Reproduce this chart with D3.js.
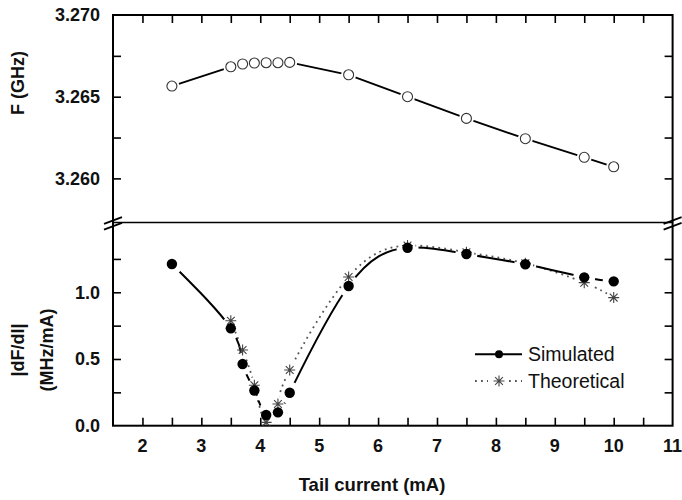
<!DOCTYPE html>
<html>
<head>
<meta charset="utf-8">
<script src="https://cdn.jsdelivr.net/npm/d3@7"></script>
<style>
  html, body { margin: 0; padding: 0; background: #fff; }
  svg { display: block; font-family: Arial, "Liberation Sans", sans-serif; }
</style>
</head>
<body>
<svg id="chart" width="682" height="500"></svg>
<script>
// ---- data ----
const currents = [2.5, 3.5, 3.7, 3.9, 4.1, 4.3, 4.5, 5.5, 6.5, 7.5, 8.5, 9.5, 10];
const freqGHz = [3.26565, 3.26683, 3.26700, 3.26706, 3.26708, 3.26708, 3.26710, 3.26634, 3.26500, 3.26367, 3.26243, 3.26129, 3.26071];
const simulated = [1.212, 0.730, 0.462, 0.264, 0.080, 0.100, 0.247, 1.047, 1.334, 1.287, 1.210, 1.112, 1.082];
const theoCurrents = [3.5, 3.7, 3.9, 4.1, 4.3, 4.5, 5.5, 6.5, 7.5, 8.5, 9.5, 10];
const theoretical = [0.787, 0.567, 0.303, 0.025, 0.163, 0.418, 1.115, 1.350, 1.300, 1.217, 1.072, 0.960];
const xTickLabels = [2, 3, 4, 5, 6, 7, 8, 9, 10, 11];
const xMinorTicks = [2, 2.5, 3, 3.5, 4, 4.5, 5, 5.5, 6, 6.5, 7, 7.5, 8, 8.5, 9, 9.5, 10, 10.5];
const fTickLabels = [3.260, 3.265, 3.270];
const fTicks = [3.260, 3.2625, 3.265, 3.2675];
const dTickLabels = [0.0, 0.5, 1.0];
const dTicks = [0.25, 0.5, 0.75, 1.0, 1.25];
const legendLabels = ["Simulated", "Theoretical"];

// ---- layout ----
const L = 113, R = 672.6, T = 15, B = 425.7, MID = 222.5;
const svg = d3.select("#chart");

const x = d3.scaleLinear().domain([1.5, 11]).range([L, R]);
const yTop = d3.scaleLinear().domain([3.2573, 3.270]).range([MID, T]);
const yBot = d3.scaleLinear().domain([0, 1.523]).range([B, MID]);

const tickFont = "bold 18px Arial, 'Liberation Sans', sans-serif";

// clip paths
const defs = svg.append("defs");
defs.append("clipPath").attr("id", "clipTop").append("rect")
  .attr("x", L).attr("y", T).attr("width", R - L).attr("height", MID - T);
defs.append("clipPath").attr("id", "clipBot").append("rect")
  .attr("x", L).attr("y", MID).attr("width", R - L).attr("height", B - MID);

function makeMask(id, pts, r) {
  const m = defs.append("mask").attr("id", id).attr("maskUnits", "userSpaceOnUse")
    .attr("x", 0).attr("y", 0).attr("width", 682).attr("height", 500);
  m.append("rect").attr("x", 0).attr("y", 0).attr("width", 682).attr("height", 500).attr("fill", "#fff");
  m.selectAll("circle").data(pts).join("circle")
    .attr("cx", d => d[0]).attr("cy", d => d[1]).attr("r", r).attr("fill", "#000");
}

// ---- axes (inward ticks) ----
const axTop = svg.append("g").attr("transform", `translate(0,${T})`)
  .call(d3.axisTop(x).tickValues(xMinorTicks).tickSize(-8).tickFormat(""));
const axBot = svg.append("g").attr("transform", `translate(0,${B})`)
  .call(d3.axisBottom(x).tickValues(xMinorTicks).tickSize(-8).tickFormat(""));
const axLT = svg.append("g").attr("transform", `translate(${L},0)`)
  .call(d3.axisLeft(yTop).tickValues(fTicks).tickSize(-8).tickFormat(""));
const axRT = svg.append("g").attr("transform", `translate(${R},0)`)
  .call(d3.axisRight(yTop).tickValues(fTicks).tickSize(-8).tickFormat(""));
const axLB = svg.append("g").attr("transform", `translate(${L},0)`)
  .call(d3.axisLeft(yBot).tickValues(dTicks).tickSize(-8).tickFormat(""));
const axRB = svg.append("g").attr("transform", `translate(${R},0)`)
  .call(d3.axisRight(yBot).tickValues(dTicks).tickSize(-8).tickFormat(""));
[axTop, axBot, axLT, axRT, axLB, axRB].forEach(g => {
  g.select(".domain").remove();
  g.selectAll(".tick line").attr("stroke", "#000").attr("stroke-width", 1.6);
});

// tick labels
svg.append("g").selectAll("text").data(xTickLabels).join("text")
  .attr("x", d => x(d)).attr("y", 452)
  .attr("text-anchor", "middle").style("font", tickFont).attr("fill", "#111")
  .text(d => d);
svg.append("g").selectAll("text").data(fTickLabels).join("text")
  .attr("x", 100).attr("y", d => yTop(d)).attr("dy", "0.36em")
  .attr("text-anchor", "end").style("font", tickFont).attr("fill", "#111")
  .text(d => d3.format(".3f")(d));
svg.append("g").selectAll("text").data(dTickLabels).join("text")
  .attr("x", 100).attr("y", d => yBot(d)).attr("dy", "0.36em")
  .attr("text-anchor", "end").style("font", tickFont).attr("fill", "#111")
  .text(d => d3.format(".1f")(d));

// frame
const frame = svg.append("g").attr("stroke", "#000").attr("fill", "none");
frame.append("rect").attr("x", L).attr("y", T).attr("width", R - L).attr("height", B - T).attr("stroke-width", 2);
frame.append("line").attr("x1", L).attr("x2", R).attr("y1", MID).attr("y2", MID).attr("stroke-width", 1.4);
// break marks
[L, R].forEach(cx => {
  [-2, 3.8].forEach(off => {
    svg.append("line")
      .attr("x1", cx - 9).attr("y1", MID + off + 3.4)
      .attr("x2", cx + 9).attr("y2", MID + off - 3.4)
      .attr("stroke", "#000").attr("stroke-width", 1.8);
  });
});

// ---- top panel ----
const topPts = currents.map((c, i) => [x(c), yTop(freqGHz[i])]);
makeMask("maskTop", topPts, 7.5);
svg.append("path")
  .attr("clip-path", "url(#clipTop)")
  .attr("mask", "url(#maskTop)")
  .attr("d", d3.line()(topPts))
  .attr("fill", "none").attr("stroke", "#000").attr("stroke-width", 1.9);
svg.append("g").selectAll("circle").data(topPts).join("circle")
  .attr("cx", d => d[0]).attr("cy", d => d[1]).attr("r", 5)
  .attr("fill", "#fff").attr("stroke", "#333").attr("stroke-width", 1.1);

// ---- bottom panel ----
const simPts = currents.map((c, i) => [x(c), yBot(simulated[i])]);
const theoPts = theoCurrents.map((c, i) => [x(c), yBot(theoretical[i])]);
makeMask("maskSim", simPts, 11);
makeMask("maskTheo", theoPts, 8);

const curve = d3.line().curve(d3.curveNatural);
const gClip = svg.append("g").attr("clip-path", "url(#clipBot)");
gClip.append("path")
  .attr("mask", "url(#maskTheo)")
  .attr("d", curve(theoPts))
  .attr("fill", "none").attr("stroke", "#555").attr("stroke-width", 1.8)
  .attr("stroke-dasharray", "1.8,4.2");
gClip.append("path")
  .attr("mask", "url(#maskSim)")
  .attr("d", curve(simPts))
  .attr("fill", "none").attr("stroke", "#000").attr("stroke-width", 2);

function star(g, cx, cy, s) {
  const a = s * Math.SQRT1_2;
  g.append("path")
    .attr("d", `M${cx - s},${cy}L${cx + s},${cy}M${cx},${cy - s}L${cx},${cy + s}` +
               `M${cx - a},${cy - a}L${cx + a},${cy + a}M${cx - a},${cy + a}L${cx + a},${cy - a}`)
    .attr("stroke", "#444").attr("stroke-width", 1.1).attr("fill", "none");
}
const gStars = svg.append("g").attr("clip-path", "url(#clipBot)");
theoPts.forEach(p => star(gStars, p[0], p[1], 5.5));
svg.append("g").attr("clip-path", "url(#clipBot)").selectAll("circle").data(simPts).join("circle")
  .attr("cx", d => d[0]).attr("cy", d => d[1]).attr("r", 5.2).attr("fill", "#000");

// ---- legend ----
const lg = svg.append("g");
const ly1 = 354.3, ly2 = 381;
lg.append("line").attr("x1", 475).attr("x2", 522).attr("y1", ly1).attr("y2", ly1)
  .attr("stroke", "#000").attr("stroke-width", 2);
lg.append("circle").attr("cx", 499).attr("cy", ly1).attr("r", 4).attr("fill", "#000");
lg.append("line").attr("x1", 475).attr("x2", 488).attr("y1", ly2).attr("y2", ly2)
  .attr("stroke", "#555").attr("stroke-width", 1.8).attr("stroke-dasharray", "1.8,4.2");
lg.append("line").attr("x1", 509).attr("x2", 522).attr("y1", ly2).attr("y2", ly2)
  .attr("stroke", "#555").attr("stroke-width", 1.8).attr("stroke-dasharray", "1.8,4.2");
star(lg, 499, ly2, 5.5);
lg.selectAll("text").data(legendLabels).join("text")
  .attr("x", 528).attr("y", (d, i) => i === 0 ? ly1 : ly2).attr("dy", "0.36em")
  .style("font", "19.5px Arial, 'Liberation Sans', sans-serif").attr("fill", "#111")
  .text(d => d);

// ---- axis titles ----
svg.append("text").attr("x", 372).attr("y", 491)
  .attr("text-anchor", "middle").style("font", "bold 18.5px Arial, 'Liberation Sans', sans-serif")
  .attr("fill", "#111").text("Tail current (mA)");
svg.append("text").attr("transform", "translate(24,83) rotate(-90)")
  .attr("text-anchor", "middle").style("font", "bold 18px Arial, 'Liberation Sans', sans-serif")
  .attr("fill", "#111").text("F (GHz)");
svg.append("text").attr("transform", "translate(24,350) rotate(-90)")
  .attr("text-anchor", "middle").style("font", "bold 18px Arial, 'Liberation Sans', sans-serif")
  .attr("fill", "#111").text("|dF/dI|");
svg.append("text").attr("transform", "translate(53,350) rotate(-90)")
  .attr("text-anchor", "middle").style("font", "bold 18px Arial, 'Liberation Sans', sans-serif")
  .attr("fill", "#111").text("(MHz/mA)");
</script>
</body>
</html>
